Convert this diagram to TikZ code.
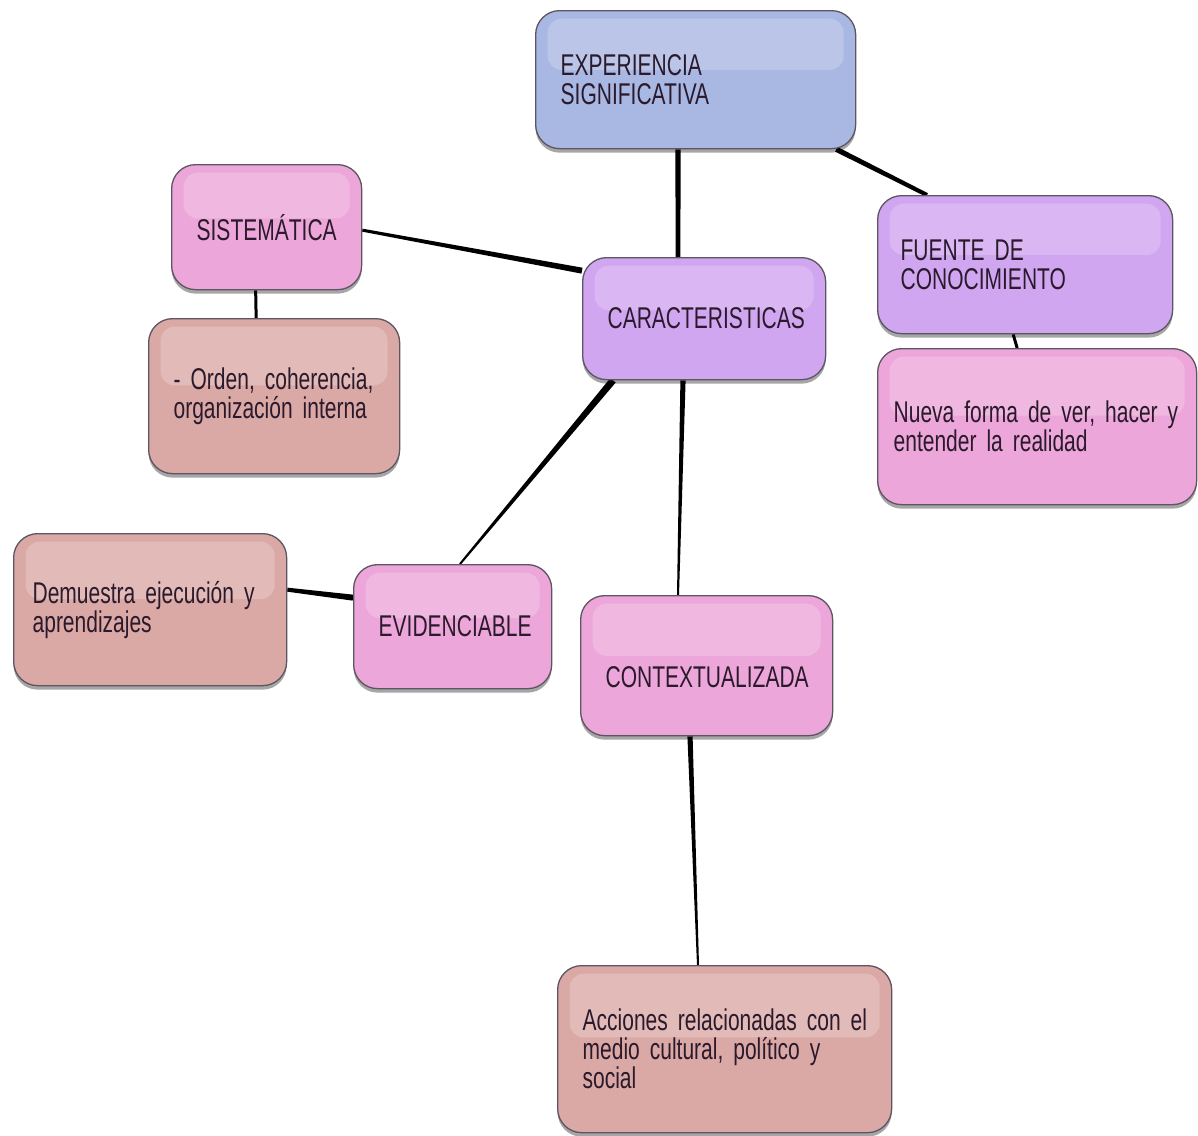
\documentclass[tikz,border=0pt]{standalone}
\usepackage{fontspec}
\newfontfamily\boxfont{Liberation Sans}[FakeStretch=0.7, WordSpace=0.7]
\usetikzlibrary{calc}
\usetikzlibrary{shadows}
\usetikzlibrary{backgrounds}
\hyphenpenalty=10000

\definecolor{expefill}{HTML}{A9B7E3}
\definecolor{lilacfill}{HTML}{D1A6F1}
\definecolor{pinkfill}{HTML}{EDA6D9}
\definecolor{clayfill}{HTML}{DBA9A5}
\definecolor{edgecol}{HTML}{5E5563}
\definecolor{textcol}{HTML}{2A1A2C}

\tikzset{
	box/.style={draw=edgecol, line width=1.3pt, rounded corners=24pt,
		inner xsep=25pt, inner ysep=0pt, align=left, anchor=north west,
		text=textcol, font=\boxfont\fontsize{30pt}{29pt}\selectfont,
		drop shadow={shadow xshift=0pt, shadow yshift=-4pt, fill=black, opacity=0.35},
		path picture={
			\fill[white, opacity=0.2, rounded corners=14pt]
				([shift={(12pt,-8pt)}]path picture bounding box.north west) rectangle
				([xshift=-12pt]$(path picture bounding box.north east)!0.43!(path picture bounding box.south east)$);
		}},
	expebox/.style={box, fill=expefill},
	lilacbox/.style={box, fill=lilacfill},
	pinkbox/.style={box, fill=pinkfill},
	claybox/.style={box, fill=clayfill},
}

% tapered link: start, end, half width at start, half width at end
\newcommand{\taperlink}[4]{%
	\fill[black] ($#1!#3!90:#2$) -- ($#1!#3!-90:#2$) -- ($#2!#4!90:#1$) -- ($#2!#4!-90:#1$) -- cycle;}

\begin{document}
\begin{tikzpicture}[x=1pt, y=-1pt]
	\useasboundingbox (0,0) rectangle (1198,1135);

	\node [expebox, text width=270pt, minimum height=138pt] (expe) at (535,10) {EXPERIENCIA\\SIGNIFICATIVA};
	\node [lilacbox, text width=193pt, minimum height=122pt] (carac) at (582,257) {CARACTERISTICAS};
	\node [lilacbox, inner xsep=23pt, text width=249pt, minimum height=138pt] (fuente) at (877,195) {FUENTE~DE\\CONOCIMIENTO};
	\node [pinkbox, text width=140pt, minimum height=125pt] (sist) at (171,164) {SISTEMÁTICA};
	\node [claybox, text width=201pt, minimum height=155pt] (orden) at (148,318) {-~Orden,~coherencia,\\organización~interna};
	\node [pinkbox, inner xsep=16pt, text width=287pt, minimum height=156pt] (nueva) at (877,348) {Nueva~forma~de~ver,~hacer~y\\entender~la~realidad};
	\node [claybox, inner xsep=19pt, text width=235pt, minimum height=152pt] (demuestra) at (13,533) {Demuestra~ejecución~y\\aprendizajes};
	\node [pinkbox, text width=148pt, minimum height=124pt] (evid) at (353,564) {EVIDENCIABLE};
	\node [pinkbox, text width=202pt, minimum height=140pt, text height=44pt, text depth=0pt] (contex) at (580,595) {CONTEXTUALIZADA};
	\node [claybox, text width=284pt, minimum height=167pt] (acciones) at (557,965) {Acciones~relacionadas~con~el\\medio~cultural,~político~y\\social};

	\begin{scope}[on background layer]
		\fill[white] (0,0) rectangle (1198,1135);
		\taperlink{([xshift=143pt]expe.south west)}{([xshift=96pt]carac.north west)}{2.6pt}{2.4pt}
		\taperlink{([xshift=-20pt]expe.south east)}{([xshift=50pt]fuente.north west)}{2.6pt}{2pt}
		\taperlink{([yshift=-3pt]sist.east)}{([yshift=48pt]carac.west)}{1.5pt}{3pt}
		\taperlink{([xshift=-11pt]sist.south)}{([xshift=-18pt]orden.north)}{1.5pt}{1.5pt}
		\taperlink{([xshift=-12pt]fuente.south)}{([xshift=-20pt]nueva.north)}{1.5pt}{1.5pt}
		\taperlink{([xshift=31pt]carac.south west)}{([xshift=107pt]evid.north west)}{3.5pt}{1pt}
		\taperlink{([xshift=101pt]carac.south west)}{([xshift=98pt]contex.north west)}{2.6pt}{1pt}
		\taperlink{([yshift=29pt]evid.west)}{([yshift=20pt]demuestra.east)}{3pt}{2pt}
		\taperlink{([xshift=110pt]contex.south west)}{([xshift=141pt]acciones.north west)}{2.6pt}{1pt}
	\end{scope}
\end{tikzpicture}
\end{document}
